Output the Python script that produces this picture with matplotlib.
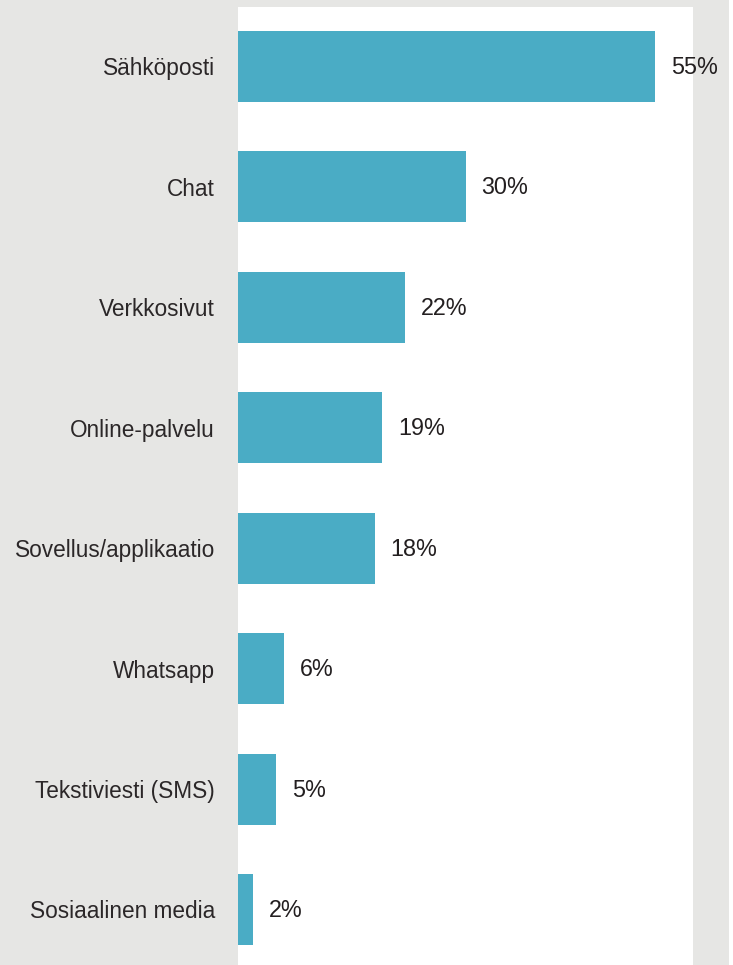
import matplotlib
matplotlib.use("Agg")
import matplotlib.pyplot as plt

categories = ["Sähköposti", "Chat", "Verkkosivut", "Online-palvelu",
              "Sovellus/applikaatio", "Whatsapp", "Tekstiviesti (SMS)", "Sosiaalinen media"]
values = [55, 30, 22, 19, 18, 6, 5, 2]
value_labels = ["55%", "30%", "22%", "19%", "18%", "6%", "5%", "2%"]

W, H = 733, 965
fig = plt.figure(figsize=(W/100, H/100), dpi=100)
fig.patch.set_facecolor("white")
# grey background panel
bg = fig.add_axes([0, 0, 729/W, 1])
bg.set_facecolor("#e6e6e4")
bg.set_xticks([]); bg.set_yticks([])
for s in bg.spines.values():
    s.set_visible(False)

ax = fig.add_axes([238/W, 0, (693-238)/W, (965-7)/H])
ax.set_facecolor("white")
y = list(range(len(categories)))
ax.barh(y, values, height=0.59, color="#4aacc5")
ax.set_xlim(0, 60)
ax.set_ylim(7.461, -0.494)
for s in ax.spines.values():
    s.set_visible(False)
ax.set_xticks([])
ax.set_yticks(y)
ax.set_yticklabels(categories, fontsize=16.3, color="#2b2728", family="Liberation Sans")
ax.tick_params(axis="y", length=0, pad=16.5)
for yi, v, lab in zip(y, values, value_labels):
    ax.annotate(lab, (v, yi), xytext=(16, -1), textcoords="offset pixels",
                va="center", ha="left", fontsize=16.8, color="#231f20", family="Liberation Sans",
                annotation_clip=False)

fig.savefig("out.png", dpi=100)
